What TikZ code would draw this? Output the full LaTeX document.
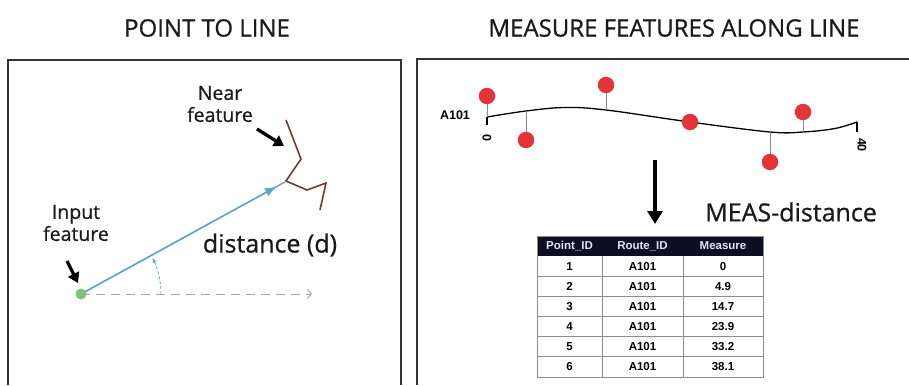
\documentclass[tikz,border=0pt]{standalone}
\usepackage{fontspec}
\setmainfont{Open Sans}
\newfontfamily\osf{Open Sans}[FakeBold=0.7]
\newfontfamily\hv{Liberation Sans}
\usetikzlibrary{arrows.meta,calc}
\definecolor{frameC}{HTML}{333333}
\definecolor{blueC}{HTML}{5AA9CC}
\definecolor{brownC}{HTML}{7A3535}
\definecolor{greenC}{HTML}{7CC47C}
\definecolor{grayC}{HTML}{A8A8A8}
\definecolor{redC}{HTML}{E5333A}
\definecolor{stemC}{HTML}{8A8A8A}
\definecolor{headC}{HTML}{0E0E22}
\definecolor{headT}{HTML}{DDE4FF}
\definecolor{gridC}{HTML}{8C8C8C}
\definecolor{textC}{HTML}{1A1A1A}
\begin{document}
\begin{tikzpicture}[x=1pt,y=1pt,
  titlefont/.style={font=\osf\fontsize{24}{28}\selectfont, text=textC, inner sep=0pt},
  labelfont/.style={font=\osf\fontsize{19.5}{22}\selectfont, text=textC, align=center, inner sep=0pt},
  bigfont/.style={font=\osf\fontsize{25}{28}\selectfont, text=textC, inner sep=0pt},
  frame/.style={draw=frameC, line width=1.8pt},
  bigarrow/.style={line width=3.3pt, -{Triangle[length=10pt,width=12pt]}},
  reddot/.style={circle, fill=redC, minimum size=16.5pt, inner sep=0pt},
  stem/.style={draw=stemC, line width=0.7pt},
  tabcell/.style={font=\hv\bfseries\fontsize{11.5}{13}\selectfont, inner sep=0pt},
  tickfont/.style={font=\hv\bfseries\fontsize{12.5}{14}\selectfont, inner sep=0pt}
]
\useasboundingbox (0,0) rectangle (909,-385);
\fill[white] (0,0) rectangle (909,-385);

% titles
\node[titlefont] (t1) at (207,-28) {POINT TO LINE};
\node[titlefont] (t2) at (674,-28) {MEASURE FEATURES ALONG LINE};

% frames
\draw[frame] (8,-385) -- (8,-60) -- (401,-60) -- (401,-385);
\draw[frame] (417,-385) -- (417,-59) -- (909,-59);

% ---------- left panel ----------
\coordinate (in) at (81,-294);
\coordinate (near) at (285,-182);
\coordinate (dend) at (312,-294);
\draw[grayC, line width=1pt, dash pattern=on 9pt off 6pt,
      -{Straight Barb[length=4pt,width=9pt]}] (in) -- (dend);
\draw[blueC, line width=1.4pt] (in) -- (near);
\draw[blueC, line width=1.4pt, -{Latex[length=12pt,width=9pt]}] (in) -- ($(in)!0.96!(near)$);
\draw[blueC, line width=0.8pt, dash pattern=on 3pt off 2pt, -{Latex[length=5pt,width=4pt]}]
  ($(in)+(80,0)$) arc[start angle=0, end angle=27, radius=80];
\fill[greenC] (in) circle (5.5);
\draw[brownC, line width=1.6pt, line join=miter]
  (286,-120) -- (301,-159) -- (286,-181) -- (307,-190) -- (326,-183) -- (320,-210);

\node[labelfont] (nearlab) at (220,-104) {Near\\feature};
\node[labelfont] (inlab) at (76,-223) {Input\\feature};
\coordinate (na1) at (257,-129);
\coordinate (na2) at (284,-146);
\draw[bigarrow] (na1) -- (na2);
\coordinate (ia1) at (67,-261);
\coordinate (ia2) at (78,-283);
\draw[bigarrow] (ia1) -- (ia2);
\node[bigfont] (dist) at (270,-245) {distance (d)};

% ---------- right panel ----------
\node[tickfont] (a101) at (455,-115) {A101};
\draw[black, line width=1.3pt] (487,-125) -- (487,-117);
\draw[black, line width=1.3pt] (857,-132) -- (857,-122);
\draw[black, line width=1.3pt] plot[smooth, tension=0.6] coordinates
  {(487,-117) (526,-111) (565,-107.5) (606,-110) (690,-122) (770,-132) (803,-132) (835,-128.5) (857,-122)};
\node[tickfont, rotate=-90] (m0) at (487,-138) {0};
\node[tickfont, rotate=-90] (m40) at (862,-145) {40};

% red points and stems
\draw[stem] (487,-117) -- (487,-96);
\draw[stem] (526,-111) -- (526,-140);
\draw[stem] (606,-110) -- (606,-85);
\draw[stem] (770,-132) -- (770,-162);
\draw[stem] (803,-132) -- (803,-112);
\node[reddot] (p1) at (487,-96) {};
\node[reddot] (p2) at (526,-140) {};
\node[reddot] (p3) at (606,-85) {};
\node[reddot] (p4) at (690,-122) {};
\node[reddot] (p5) at (770,-162) {};
\node[reddot] (p6) at (803,-112) {};

% down arrow
\coordinate (da1) at (655,-160);
\coordinate (da2) at (655,-224);
\draw[line width=3.6pt, -{Triangle[length=13pt,width=15pt]}] (da1) -- (da2);
\node[bigfont] (meas) at (791,-212) {MEAS-distance};

% table
\fill[headC] (537,-236) rectangle (763,-256);
\node[tabcell, text=headT] (h1) at (569.5,-246) {Point\_ID};
\node[tabcell, text=headT] (h2) at (642.5,-246) {Route\_ID};
\node[tabcell, text=headT] (h3) at (723,-246) {Measure};
\foreach \pid/\mv [count=\r] in {1/0,2/4.9,3/14.7,4/23.9,5/33.2,6/38.1}{
  \pgfmathsetmacro{\yc}{-256-20.17*(\r-0.5)}
  \node[tabcell] (c\r a) at (569.5,\yc) {\pid};
  \node[tabcell] (c\r b) at (642.5,\yc) {A101};
  \node[tabcell] (c\r c) at (723,\yc) {\mv};
}
\foreach \r in {1,...,5}{
  \draw[gridC, line width=0.9pt] (537,-256-20.17*\r) -- (763,-256-20.17*\r);
}
\draw[gridC, line width=0.9pt] (602,-256) -- (602,-377);
\draw[gridC, line width=0.9pt] (683,-256) -- (683,-377);
\draw[gridC, line width=1pt] (537,-236) rectangle (763,-377);
\end{tikzpicture}
\end{document}
